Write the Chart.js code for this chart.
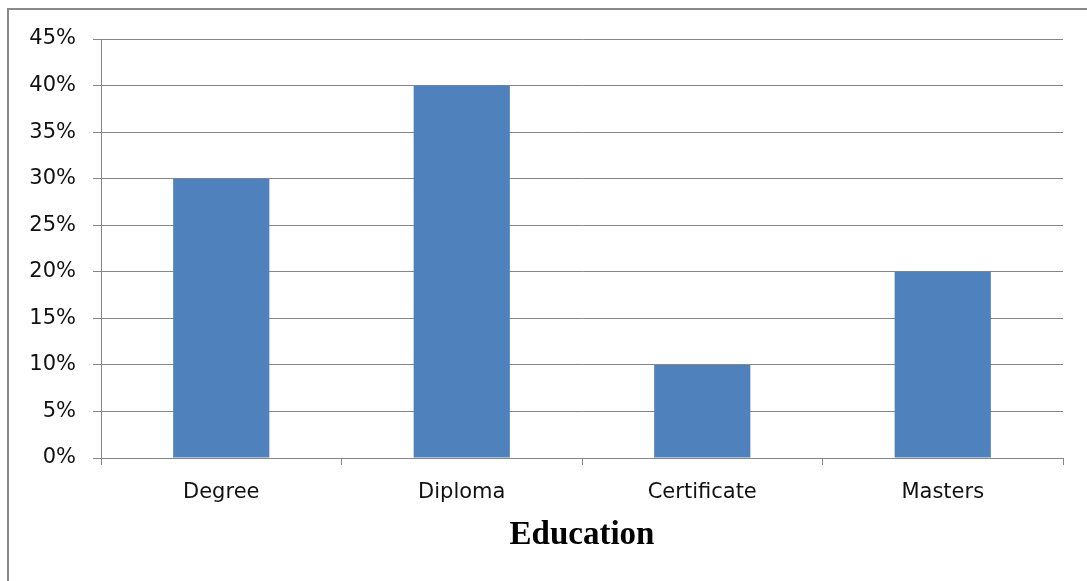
<!DOCTYPE html>
<html>
<head>
<meta charset="utf-8">
<script src="https://cdn.jsdelivr.net/npm/chart.js@4/dist/chart.umd.min.js"></script>
<style>
  html, body { margin: 0; padding: 0; background: #fff; overflow: hidden; }
  #frame { position: absolute; left: 7px; top: 8px; width: 2000px; height: 2000px;
           border-left: 2px solid #8a8a8a; border-top: 2px solid #8a8a8a; }
  #wrap { position: absolute; left: 0; top: 0; width: 1087px; height: 581px; }
</style>
</head>
<body>
<div id="frame"></div>
<div id="wrap"><canvas id="eduChart" width="1087" height="581"></canvas></div>
<script>
const categories = ['Degree', 'Diploma', 'Certificate', 'Masters'];
const shares = [30, 40, 10, 20];
const yTicks = [0, 5, 10, 15, 20, 25, 30, 35, 40, 45];

document.addEventListener('DOMContentLoaded', () => {
  const ctx = document.getElementById('eduChart').getContext('2d');
  new Chart(ctx, {
    type: 'bar',
    data: {
      labels: categories,
      datasets: [{
        label: 'Education',
        data: shares,
        backgroundColor: '#4f81bd',
        barPercentage: 0.4,
        categoryPercentage: 1.0,
      }]
    },
    options: {
      responsive: false,
      animation: false,
      layout: { padding: { left: 0, right: 24, top: 39, bottom: 0 } },
      plugins: { legend: { display: false }, tooltip: { enabled: false } },
      scales: {
        x: {
          offset: true,
          grid: { drawOnChartArea: false, drawTicks: true, tickLength: 7, color: '#868686', offset: true },
          border: { color: '#868686' },
          ticks: { color: '#111', padding: 15, font: { family: 'DejaVu Sans', size: 21 } },
          title: {
            display: true, text: 'Education', color: '#000',
            font: { family: 'Liberation Serif', size: 33, weight: 'bold' },
            padding: { top: 0, bottom: 26 }
          },
          afterFit: s => { s.height = 123; }
        },
        y: {
          min: 0, max: 45,
          afterBuildTicks: s => { s.ticks = yTicks.map(v => ({ value: v })); },
          grid: { color: '#868686', tickLength: 8 },
          border: { color: '#868686' },
          ticks: { color: '#111', padding: 17, font: { family: 'DejaVu Sans', size: 21 },
                   callback: v => v + '%' },
          afterFit: s => { s.width = 101; }
        }
      }
    }
  });
});
</script>
</body>
</html>
